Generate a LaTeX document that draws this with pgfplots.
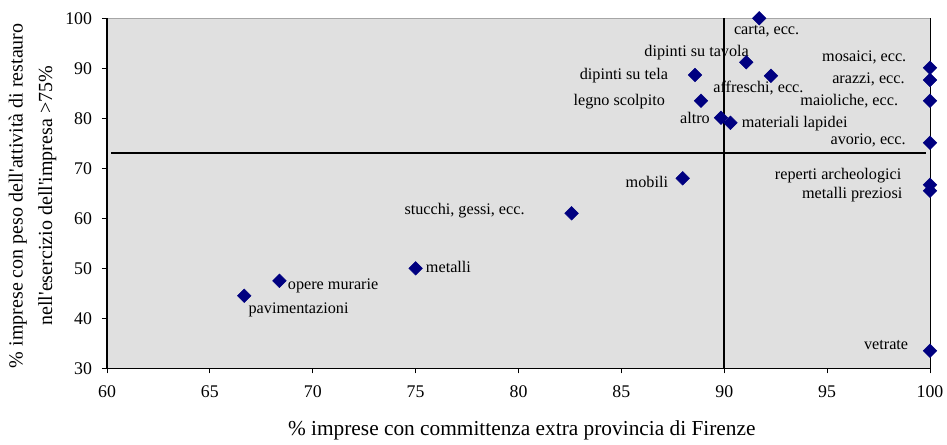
\documentclass[border=0pt]{standalone}
\usepackage{fontspec}
\setmainfont{Liberation Serif}
\usepackage{pgfplots}
\pgfplotsset{compat=1.18}
\definecolor{plotbg}{RGB}{224,224,224}
\definecolor{marknavy}{RGB}{0,0,128}
\newcommand{\annot}{\fontsize{12.15}{14}\selectfont}

\begin{document}
\begin{tikzpicture}
\begin{axis}[
  at={(80.25pt,56.78pt)}, anchor=south west,
  width=617.25pt, height=262.5pt, scale only axis,
  xmin=60, xmax=100, ymin=30, ymax=100,
  xtick={60,65,...,100}, ytick={30,40,...,100},
  axis x line*=bottom, axis y line*=left,
  axis line style={-, black, line width=0.9pt},
  axis background/.style={fill=plotbg, draw=gray!70, line width=0.6pt},
  tick align=outside, major tick length=3.75pt,
  tick style={black, line width=0.7pt},
  /pgf/number format/assume math mode=true,
  tick label style={font=\fontsize{13.35}{16}\selectfont},
  xticklabel style={yshift=-6pt},
  yticklabel style={xshift=-4pt},
  xlabel={\% imprese con committenza extra provincia di Firenze},
  xlabel style={font=\fontsize{16}{19}\selectfont, at={(axis description cs:0.504,-0.176)}, anchor=center},
  ylabel={\% imprese con peso dell\textquotesingle attività di restauro\\[4pt]nell\textquotesingle esercizio dell\textquotesingle impresa >75\%},
  ylabel style={font=\fontsize{15}{18}\selectfont, align=center, at={(axis description cs:-0.0905,0.493)}, anchor=center},
  clip=false,
]
% linee di riferimento
\addplot[black, line width=1.5pt] coordinates {(90,30) (90,100)};
\addplot[black, line width=1.5pt] coordinates {(60.2,73) (99.8,73)};
\draw[black, line width=0.6pt] (rel axis cs:1,0) -- (rel axis cs:1,1);

\addplot[only marks, mark=square*, mark size=3.6pt,
  mark options={rotate=45, fill=marknavy, draw=marknavy}] coordinates {
  (91.7,100) (91.07,91.2) (92.27,88.5) (88.58,88.66) (88.87,83.5)
  (89.84,80.1) (90.3,79.1) (100,90.1) (100,87.66) (100,83.5)
  (100,75.1) (100,66.7) (100,65.5) (100,33.5) (87.98,68)
  (82.58,61) (75,50) (68.38,47.5) (66.67,44.5)
};

\node[anchor=center, inner sep=0pt, font=\annot] at (axis cs:92.06,97.46) {carta, ecc.};
\node[anchor=center, inner sep=0pt, font=\annot] at (axis cs:88.66,93.1) {dipinti su tavola};
\node[anchor=east, inner sep=0pt, font=\annot] at (axis cs:87.28,88.46) {dipinti su tela};
\node[anchor=center, inner sep=0pt, font=\annot] at (axis cs:91.66,86) {affreschi, ecc.};
\node[anchor=east, inner sep=0pt, font=\annot] at (axis cs:87.13,83.26) {legno scolpito};
\node[anchor=east, inner sep=0pt, font=\annot] at (axis cs:89.31,80.1) {altro};
\node[anchor=west, inner sep=0pt, font=\annot] at (axis cs:90.84,79) {materiali lapidei};
\node[anchor=east, inner sep=0pt, font=\annot] at (axis cs:98.86,92.1) {mosaici, ecc.};
\node[anchor=east, inner sep=0pt, font=\annot] at (axis cs:98.78,87.86) {arazzi, ecc.};
\node[anchor=east, inner sep=0pt, font=\annot] at (axis cs:98.46,83.5) {maioliche, ecc.};
\node[anchor=east, inner sep=0pt, font=\annot] at (axis cs:98.83,75.5) {avorio, ecc.};
\node[anchor=east, inner sep=0pt, font=\annot] at (axis cs:98.62,68.46) {reperti archeologici};
\node[anchor=east, inner sep=0pt, font=\annot] at (axis cs:98.67,64.8) {metalli preziosi};
\node[anchor=east, inner sep=0pt, font=\annot] at (axis cs:98.95,34.66) {vetrate};
\node[anchor=east, inner sep=0pt, font=\annot] at (axis cs:87.28,67.2) {mobili};
\node[anchor=east, inner sep=0pt, font=\annot] at (axis cs:80.31,61.5) {stucchi, gessi, ecc.};
\node[anchor=west, inner sep=0pt, font=\annot] at (axis cs:75.49,50.2) {metalli};
\node[anchor=west, inner sep=0pt, font=\annot] at (axis cs:68.78,46.46) {opere murarie};
\node[anchor=west, inner sep=0pt, font=\annot] at (axis cs:66.87,41.66) {pavimentazioni};
\end{axis}
\pgfresetboundingbox
\path (0,0) rectangle (710.25pt,333pt);
\end{tikzpicture}
\end{document}
